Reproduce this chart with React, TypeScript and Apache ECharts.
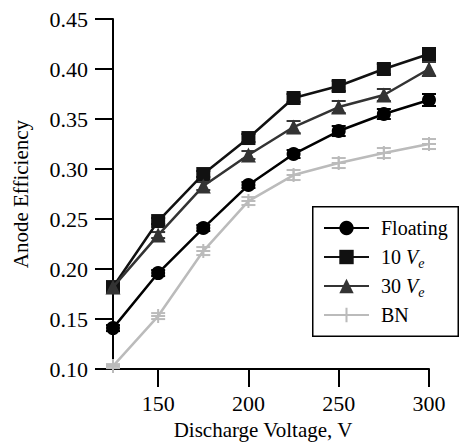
import React, { useEffect, useRef } from "react";
import * as echarts from "echarts";

const voltage = [125, 150, 175, 200, 225, 250, 275, 300];
const floating = [0.141, 0.196, 0.241, 0.284, 0.315, 0.338, 0.355, 0.369];
const tenVe = [0.182, 0.248, 0.295, 0.331, 0.371, 0.383, 0.4, 0.415];
const thirtyVe = [0.182, 0.234, 0.283, 0.314, 0.342, 0.362, 0.374, 0.4];
const bn = [0.103, 0.153, 0.218, 0.268, 0.294, 0.306, 0.316, 0.325];

const floatingErr = [0.003, 0.003, 0.003, 0.003, 0.004, 0.005, 0.005, 0.006];
const tenVeErr = [0.003, 0.003, 0.003, 0.004, 0.004, 0.005, 0.005, 0.005];
const thirtyVeErr = [0.003, 0.003, 0.004, 0.004, 0.006, 0.006, 0.006, 0.007];
const bnErr = [0.002, 0.003, 0.004, 0.004, 0.005, 0.005, 0.005, 0.005];

const xTicks = [150, 200, 250, 300];
const seriesNames = ["Floating", "10 Ve", "30 Ve", "BN"];

const FONT = "'Liberation Serif', 'Times New Roman', serif";
const PLUS = "path://M-1,-7L1,-7L1,7L-1,7Z M-7,-1L7,-1L7,1L-7,1Z";

export default function App() {
  const ref = useRef<HTMLDivElement>(null);
  useEffect(() => {
    if (!ref.current) return;
    const chart = echarts.init(ref.current, null, { renderer: "svg" });
    const pairs = (ys: number[]) => voltage.map((x, i) => [x, ys[i]]);
    const errPairs = (ys: number[], es: number[]) => voltage.map((x, i) => [x, ys[i], es[i]]);
    const errSeries = (name: string, ys: number[], es: number[], color: string, z: number) => ({
      type: "custom",
      name,
      z,
      encode: { x: 0, y: 1 },
      data: errPairs(ys, es),
      renderItem: (params: any, api: any) => {
        const x = api.value(0);
        const y = api.value(1);
        const e = api.value(2);
        const top = api.coord([x, y + e]);
        const bot = api.coord([x, y - e]);
        const hw = 7;
        const style = { stroke: color, lineWidth: 2 };
        return {
          type: "group",
          children: [
            { type: "line", shape: { x1: top[0], y1: top[1], x2: bot[0], y2: bot[1] }, style },
            { type: "line", shape: { x1: top[0] - hw, y1: top[1], x2: top[0] + hw, y2: top[1] }, style },
            { type: "line", shape: { x1: bot[0] - hw, y1: bot[1], x2: bot[0] + hw, y2: bot[1] }, style },
          ],
        };
      },
    });
    const lineSeries = (name: string, ys: number[], color: string, symbol: string, size: number, z: number) => ({
      type: "line",
      name,
      z,
      data: pairs(ys),
      symbol,
      symbolSize: size,
      symbolKeepAspect: true,
      showAllSymbol: true,
      lineStyle: { color, width: 2.5 },
      itemStyle: { color, borderWidth: 0 },
    });
    const legendFmt = (name: string) => {
      if (name === "10 Ve") return "{n|10 }{i|V}{s|e}";
      if (name === "30 Ve") return "{n|30 }{i|V}{s|e}";
      return "{n|" + name + "}{s| }";
    };
    chart.setOption({
      animation: false,
      backgroundColor: "#fff",
      grid: { left: 113, right: 31, top: 19, bottom: 75 },
      graphic: [
        {
          type: "rect",
          z: 100,
          silent: true,
          shape: { x: 312.75, y: 206.75, width: 145.5, height: 129.5 },
          style: { fill: "none", stroke: "#000", lineWidth: 1.5 },
        },
      ],
      xAxis: {
        type: "value",
        min: 125,
        max: 300,
        name: "Discharge Voltage, V",
        nameLocation: "middle",
        nameGap: 46,
        nameTextStyle: { fontFamily: FONT, fontSize: 21, color: "#000", padding: [0, 16, 0, 0] },
        axisLine: { show: true, onZero: false, lineStyle: { color: "#000", width: 2 } },
        axisTick: { show: true, customValues: xTicks, length: 18, lineStyle: { color: "#000", width: 2 } },
        axisLabel: {
          customValues: xTicks,
          margin: 23,
          fontFamily: FONT,
          fontSize: 22,
          color: "#000",
        },
        splitLine: { show: false },
      },
      yAxis: {
        type: "value",
        min: 0.1,
        max: 0.45,
        interval: 0.05,
        name: "Anode Efficiency",
        nameLocation: "middle",
        nameGap: 82,
        nameTextStyle: { fontFamily: FONT, fontSize: 21, color: "#000" },
        axisLine: { show: true, onZero: false, lineStyle: { color: "#000", width: 2 } },
        axisTick: { show: true, length: 18, lineStyle: { color: "#000", width: 2 } },
        axisLabel: {
          margin: 25,
          fontFamily: FONT,
          fontSize: 22,
          color: "#000",
          formatter: (v: number) => v.toFixed(2),
        },
        splitLine: { show: false },
      },
      legend: {
        orient: "vertical",
        left: 313,
        top: 207,
        data: seriesNames,
        itemWidth: 45,
        itemHeight: 18,
        itemGap: 6,
        padding: [11, 10, 8, 10],
        borderWidth: 0,
        backgroundColor: "#fff",
        selectedMode: false,
        formatter: legendFmt,
        textStyle: {
          fontFamily: FONT,
          fontSize: 20,
          color: "#000",
          padding: [0, 0, 0, 7],
          rich: {
            n: { fontFamily: FONT, fontSize: 20, color: "#000", lineHeight: 26 },
            i: { fontFamily: FONT, fontSize: 20, color: "#000", fontStyle: "italic", lineHeight: 26 },
            s: { fontFamily: FONT, fontSize: 14, color: "#000", fontStyle: "italic", lineHeight: 26, verticalAlign: "bottom" },
          },
        },
      },
      series: [
        errSeries("Floating err", floating, floatingErr, "#000", 1),
        errSeries("10 Ve err", tenVe, tenVeErr, "#111", 1),
        errSeries("30 Ve err", thirtyVe, thirtyVeErr, "#333", 1),
        errSeries("BN err", bn, bnErr, "#bbb", 1),
        lineSeries("Floating", floating, "#000", "circle", 14, 2),
        lineSeries("10 Ve", tenVe, "#111", "rect", 14, 3),
        lineSeries("30 Ve", thirtyVe, "#333", "triangle", 15, 4),
        lineSeries("BN", bn, "#bbb", PLUS, 14, 5),
      ],
    });
    return () => chart.dispose();
  }, []);
  return <div ref={ref} style={{ position: "fixed", left: 0, top: 0, width: 460, height: 445 }} />;
}
